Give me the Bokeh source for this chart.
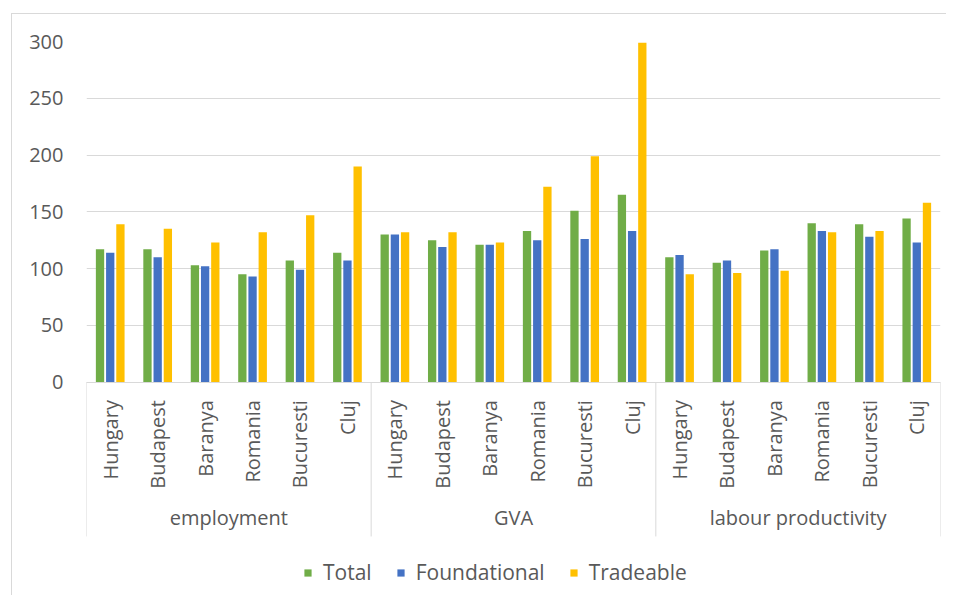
import math
from bokeh.plotting import figure
from bokeh.models import (ColumnDataSource, FactorRange, Range1d, FixedTicker,
                          Legend, LegendItem)
from bokeh.transform import dodge
from bokeh.embed import file_html
from bokeh.resources import INLINE

# ---- data -------------------------------------------------------------
indicators = ["employment", "GVA", "labour productivity"]
regions = ["Hungary", "Budapest", "Baranya", "Romania", "Bucuresti", "Cluj"]
series = ["Total", "Foundational", "Tradeable"]

total = [117, 117, 103, 95, 107, 114,
         130, 125, 121, 133, 151, 165,
         110, 105, 116, 140, 139, 144]
foundational = [114, 110, 102, 93, 99, 107,
                130, 119, 121, 125, 126, 133,
                112, 107, 117, 133, 128, 123]
tradeable = [139, 135, 123, 132, 147, 190,
             132, 132, 123, 172, 199, 299,
             95, 96, 98, 132, 133, 158]
y_ticks = [0, 50, 100, 150, 200, 250, 300]

# ---- build -----------------------------------------------------------
FONT = "Open Sans"
TXT = "#595959"
GRID = "#d9d9d9"
colors = ["#70ad47", "#4472c4", "#ffc000"]

x = [(g, r) for g in indicators for r in regions]
source = ColumnDataSource(data=dict(x=x, Total=total,
                                    Foundational=foundational,
                                    Tradeable=tradeable))

# the frame reaches below zero so that the category axis (fixed at 0)
# and the legend sit inside it, as in the reference layout
p = figure(x_range=FactorRange(*x, factor_padding=0, group_padding=0,
                               range_padding=0),
           y_range=Range1d(-188, 300),
           frame_width=854, frame_height=554,
           min_border_left=74, min_border_top=27, min_border_right=6,
           min_border_bottom=0,
           output_backend="svg", toolbar_location=None,
           background_fill_color="white", border_fill_color="white")
p.margin = (13, 0, 0, 11)
p.styles = {"border-top": "1px solid #d9d9d9", "border-left": "1px solid #d9d9d9"}
p.outline_line_color = None

offsets = [-0.215, 0.0, 0.215]
renderers = []
for s, c, off in zip(series, colors, offsets):
    r = p.vbar(x=dodge("x", off, range=p.x_range), top=s, bottom=0,
               width=0.175, source=source, fill_color=c, line_color=None)
    renderers.append(r)

# category-axis box lines (Excel style): at each group's edges
edges = [[g, regions[0], -0.5] for g in indicators] + \
        [[indicators[-1], regions[-1], 0.5]]
sep = ColumnDataSource(data=dict(x=edges, y0=[0] * len(edges),
                                 y1=[-136] * len(edges)))
p.segment(x0="x", y0="y0", x1="x", y1="y1", source=sep,
          line_color=GRID, line_width=1)

# y axis
p.yaxis.ticker = FixedTicker(ticks=y_ticks)
p.yaxis.axis_line_color = None
p.yaxis.major_tick_line_color = None
p.yaxis.minor_tick_line_color = None
p.yaxis.major_label_standoff = 17
p.yaxis.major_label_text_font = FONT
p.yaxis.major_label_text_font_size = "20px"
p.yaxis.major_label_text_color = TXT

p.ygrid.grid_line_color = GRID
p.ygrid.grid_line_width = 1
p.xgrid.grid_line_color = None

# x axis, drawn at y = 0
xa = p.xaxis[0]
xa.fixed_location = 0
xa.axis_line_color = GRID
xa.major_tick_line_color = None
xa.minor_tick_line_color = None
xa.major_label_orientation = math.pi / 2
xa.major_label_standoff = 12
xa.major_label_text_font = FONT
xa.major_label_text_font_size = "20px"
xa.major_label_text_color = TXT
xa.group_label_orientation = "parallel"
xa.group_text_font = FONT
xa.group_text_font_size = "20px"
xa.group_text_font_style = "normal"
xa.group_text_color = TXT
xa.separator_line_color = None

legend = Legend(items=[LegendItem(label=s, renderers=[r])
                       for s, r in zip(series, renderers)],
                orientation="horizontal", location=(217, 9),
                border_line_color=None, background_fill_alpha=0,
                label_text_font=FONT, label_text_font_size="21px",
                label_text_color=TXT, glyph_width=9, glyph_height=9,
                label_standoff=11, spacing=24, padding=3, margin=0)
p.add_layout(legend, "center")

open("out.html", "w").write(file_html(p, INLINE))
